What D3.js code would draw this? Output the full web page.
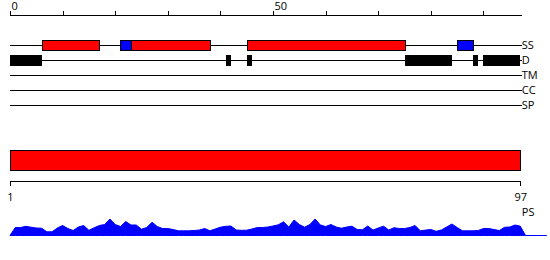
<!DOCTYPE html>
<html>
<head>
<meta charset="utf-8">
<script src="https://cdn.jsdelivr.net/npm/d3@7"></script>
<style>
  html, body { margin: 0; padding: 0; background: #fff; }
  svg { display: block; }
  text { font-family: "Open Sans", "DejaVu Sans", sans-serif; font-size: 11px; fill: #000; }
</style>
</head>
<body>
<svg id="chart" width="550" height="260"></svg>
<script>
// ---------- data ----------
const seqLength = 97;
const topTickValues = [0, 10, 20, 30, 40, 50, 60, 70, 80, 90];
const topTickLabels = ["0", "", "", "", "", "50", "", "", "", ""];
const trackNames = ["SS", "D", "TM", "CC", "SP"];
// secondary structure segments [start, end, type]
const ssSegments = [
  [6, 17, "helix"],
  [21, 23, "strand"],
  [23, 38, "helix"],
  [45, 75, "helix"],
  [85, 88, "strand"]
];
// disordered regions [start, end]
const disorderSegments = [
  [0, 6], [41, 42], [45, 46], [75, 84], [88, 89], [90, 97]
];
// domain bar
const domainSegments = [[1, 97]];
const bottomTickValues = [1, 97];
const bottomTickLabels = ["1", "97"];
const psLabel = "PS";
// per-residue profile (index 0..102)
const profileValues = [
  0, 8, 8, 9.2, 8.3, 7.5, 7.3, 3.7, 3.7, 7.5,
  10, 7, 5, 8.5, 10, 5.2, 7.8, 10, 11, 16.5,
  11, 9, 14, 10.5, 10.5, 6.3, 8, 13.3, 9, 7,
  7, 6, 4.7, 4.7, 4.7, 5, 5.5, 7, 4.7, 6.5,
  8.3, 9.2, 9.5, 5.5, 5.2, 5.3, 6.5, 8, 8, 8.5,
  9.5, 10.7, 13.7, 8.5, 15.5, 11, 8.3, 11, 16.5, 10.5,
  9, 11, 8.5, 7.3, 8.5, 9.3, 6, 5.8, 9.5, 5.5,
  7.5, 9.3, 5.5, 7.8, 7, 7, 8, 10, 4.7, 5.4,
  6, 4.2, 5.5, 8.5, 11.5, 8, 4.7, 4.7, 4.7, 5,
  7, 7, 6, 5, 8.2, 8.5, 10.5, 9.3, 0, 0,
  0, 0, 0
];
const colors = { helix: "#ff0000", strand: "#0000ff", disorder: "#000000", domain: "#ff0000", profile: "#0000ff" };

// ---------- scales ----------
const svg = d3.select("#chart");
const x = d3.scaleLinear().domain([0, seqLength]).range([10, 520.3]);
const xb = d3.scaleLinear().domain([1, seqLength]).range([10, 520.3]);
const rowY = d3.scalePoint().domain(trackNames).range([45, 105]);
const yProf = d3.scaleLinear().domain([0, 20]).range([235.5, 215.5]);
const lineEnd = x(seqLength) + 1.5;

// ---------- top axis ----------
const topAxis = d3.axisTop(x).tickValues(topTickValues).tickSize(5).tickSizeOuter(0)
  .tickFormat((d, i) => topTickLabels[i]);
const gTop = svg.append("g").attr("transform", "translate(0,15.5)").call(topAxis);
gTop.select(".domain").attr("d", `M${x(0)},0H${lineEnd}`).attr("stroke", "#000").attr("shape-rendering", "crispEdges");
gTop.selectAll(".tick line").attr("stroke", "#000").attr("shape-rendering", "crispEdges");
gTop.selectAll(".tick text").attr("text-anchor", "start").attr("x", 1).attr("y", -6).attr("dy", 0)
  .style("font-family", '"Open Sans", sans-serif').style("font-size", "11px");

// ---------- track lines ----------
svg.append("g").selectAll("line").data(trackNames).join("line")
  .attr("x1", x(0)).attr("x2", lineEnd)
  .attr("y1", d => rowY(d) + 0.5).attr("y2", d => rowY(d) + 0.5)
  .attr("stroke", "#000").attr("stroke-width", 1).attr("shape-rendering", "crispEdges");
svg.append("g").selectAll("text").data(trackNames).join("text")
  .attr("x", lineEnd).attr("y", d => rowY(d) + 4)
  .text(d => d);

// ---------- SS boxes ----------
svg.append("g").selectAll("rect").data(ssSegments).join("rect")
  .attr("x", d => x(d[0]) + 0.5).attr("width", d => x(d[1]) - x(d[0]))
  .attr("y", rowY("SS") - 4.5).attr("height", 10)
  .attr("fill", d => colors[d[2]]).attr("stroke", "#000").attr("stroke-width", 1)
  .attr("shape-rendering", "crispEdges");

// ---------- disorder boxes ----------
svg.append("g").selectAll("rect").data(disorderSegments).join("rect")
  .attr("x", d => x(d[0])).attr("width", d => x(d[1]) - x(d[0]))
  .attr("y", rowY("D") - 5).attr("height", 11)
  .attr("fill", colors.disorder).attr("shape-rendering", "crispEdges");

// ---------- domain bar ----------
svg.append("g").selectAll("rect").data(domainSegments).join("rect")
  .attr("x", d => xb(d[0]) + 0.5).attr("width", d => xb(d[1]) - xb(d[0]))
  .attr("y", 150.5).attr("height", 20)
  .attr("fill", colors.domain).attr("stroke", "#000").attr("stroke-width", 1)
  .attr("shape-rendering", "crispEdges");

// ---------- bottom axis ----------
const bottomAxis = d3.axisBottom(xb).tickValues(bottomTickValues).tickSize(5).tickSizeOuter(0)
  .tickFormat((d, i) => bottomTickLabels[i]);
const gBot = svg.append("g").attr("transform", "translate(0,180.5)").call(bottomAxis);
gBot.select(".domain").attr("stroke", "#000").attr("shape-rendering", "crispEdges");
gBot.selectAll(".tick line").attr("stroke", "#000").attr("shape-rendering", "crispEdges");
gBot.selectAll(".tick text").attr("y", 20).attr("dy", 0)
  .style("font-family", '"Open Sans", sans-serif').style("font-size", "11px");
svg.append("text").attr("x", lineEnd).attr("y", 215.5).text(psLabel);

// ---------- profile area ----------
const area = d3.area()
  .x((d, i) => x(i))
  .y0(yProf(0))
  .y1(d => yProf(d));
svg.append("path").datum(profileValues)
  .attr("d", area)
  .attr("fill", colors.profile)
  .attr("stroke", colors.profile).attr("stroke-width", 1);
</script>
</body>
</html>
